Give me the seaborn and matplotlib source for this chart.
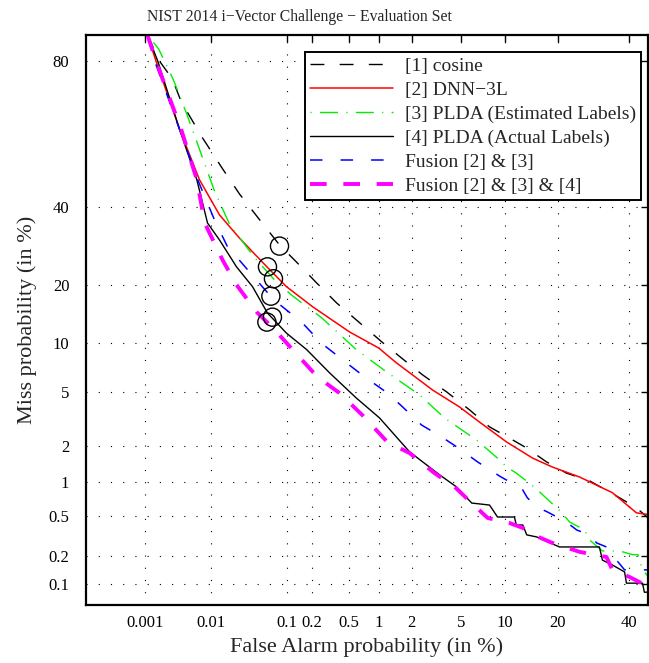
import numpy as np
import pandas as pd
import matplotlib
matplotlib.use("Agg")
import matplotlib.pyplot as plt
import seaborn as sns
from statistics import NormalDist

# ---------------- data (percent) ----------------
cos_fa = [0.0011, 0.0017, 0.0027, 0.0037, 0.0076, 0.0147, 0.025, 0.045, 0.082, 0.132, 0.225, 0.374,
          0.648, 1.07, 1.63, 2.49, 3.9, 5.79, 7.97, 10.7, 13.6, 17.5, 22.1, 28.2, 37.1, 42.5, 46.5]
cos_miss = [85, 80, 76, 70.3, 60.4, 51.2, 43.7, 36.5, 29.4, 25.1, 20.4, 16.4,
            13.0, 10.2, 8.2, 6.44, 4.98, 3.74, 2.81, 2.31, 1.93, 1.49, 1.20, 1.03, 0.73, 0.59, 0.47]

dnn_fa = [0.0011, 0.0015, 0.0035, 0.0069, 0.0133, 0.025, 0.057, 0.1, 0.203, 0.51, 1.0, 1.47,
          2.04, 3.01, 4.89, 6.81, 10.3, 14.7, 18.8, 25.5, 34.9, 42.5, 46.5]
dnn_miss = [85, 80, 62.7, 47.9, 37.6, 31.2, 24.0, 19.6, 15.7, 11.6, 9.4, 7.65,
            6.44, 5.13, 3.92, 3.05, 2.15, 1.60, 1.35, 1.11, 0.81, 0.53, 0.51]

pest_fa = [0.0011, 0.00166, 0.0028, 0.0044, 0.0067, 0.0113, 0.0183, 0.040, 0.069, 0.115, 0.256, 0.60,
           1.19, 2.35, 3.75, 6.49, 9.0, 10.3, 11.8, 14.5, 15.6, 18.6, 20.4, 22.9, 26.8, 28.2, 31.9,
           37.1, 41.3, 43.0, 44.5, 46.5]
pest_miss = [85, 82.4, 75.8, 67.4, 57.7, 44.6, 35.0, 26.1, 21.3, 17.9, 13.8, 9.2,
             6.72, 4.75, 3.27, 2.23, 1.60, 1.35, 1.20, 0.95, 0.86, 0.653, 0.56, 0.433, 0.363, 0.289, 0.224,
             0.224, 0.205, 0.205, 0.142, 0.119]

pact_fa = [0.0011, 0.0016, 0.0035, 0.0063, 0.0090, 0.0133, 0.0228, 0.0373, 0.058, 0.1, 0.173, 0.314,
           0.60, 1.02, 1.92, 3.43, 4.65, 6.0, 7.97, 9.0, 11.5, 11.8, 12.9, 13.6, 15.5, 20.4, 31.0,
           31.9, 34.9, 38.7, 39.3, 44.5, 45.1, 46.5]
pact_miss = [85, 80, 62.7, 47.9, 35.3, 30.7, 24.0, 19.6, 14.6, 11.4, 9.2, 6.63,
             4.53, 3.27, 1.80, 1.16, 0.91, 0.653, 0.626, 0.484, 0.484, 0.406, 0.406, 0.325, 0.31, 0.246, 0.246,
             0.18, 0.16, 0.135, 0.102, 0.102, 0.081, 0.081]

f23_fa = [0.0011, 0.00143, 0.0035, 0.0065, 0.0113, 0.0172, 0.0228, 0.042, 0.062, 0.078, 0.151, 0.256,
          0.432, 0.73, 1.21, 1.67, 2.44, 3.55, 4.8, 6.6, 9.3, 11.0, 12.7, 13.7, 15.5, 17.7, 22.1,
          24.7, 28.2, 30.2, 33.1, 35.6, 38.7, 46.5]
f23_miss = [85, 80, 62.7, 47.9, 36.2, 28.9, 26.4, 21.0, 17.9, 16.4, 13.1, 10.0,
            8.0, 6.25, 4.9, 3.92, 2.9, 2.36, 1.93, 1.49, 1.13, 0.99, 0.89, 0.73, 0.60, 0.54, 0.433,
            0.363, 0.325, 0.27, 0.246, 0.19, 0.142, 0.142]

fall_fa = [0.0011, 0.0015, 0.0037, 0.0063, 0.0082, 0.0147, 0.0228, 0.042, 0.057, 0.078, 0.135, 0.23,
           0.40, 0.70, 1.21, 1.92, 3.12, 4.5, 6.0, 7.74, 10.7, 12.9, 14.5, 18.8, 25.5, 33.1, 34.9,
           40.3, 44.2, 46.5]
fall_miss = [85, 80, 62.7, 47.9, 35.3, 25.6, 20.0, 14.8, 13.1, 11.4, 8.55, 6.25,
             4.9, 3.4, 2.15, 1.76, 1.20, 0.91, 0.653, 0.474, 0.425, 0.38, 0.331, 0.27, 0.219, 0.194, 0.142,
             0.119, 0.102, 0.102]

# minimum-DCF operating points (circles)
dcf_fa = [0.082, 0.058, 0.069, 0.067, 0.064, 0.057]
dcf_miss = [29.1, 24.0, 21.3, 13.9, 17.7, 13.1]

labels = ["[1] cosine", "[2] DNN\u22123L", "[3] PLDA (Estimated Labels)", "[4] PLDA (Actual Labels)",
          "Fusion [2] & [3]", "Fusion [2] & [3] & [4]"]

x_ticks = [0.001, 0.01, 0.1, 0.2, 0.5, 1, 2, 5, 10, 20, 40]
x_ticklabels = ["0.001", "0.01", "0.1", "0.2", "0.5", "1", "2", "5", "10", "20", "40"]
y_ticks = [0.1, 0.2, 0.5, 1, 2, 5, 10, 20, 40, 80]
y_ticklabels = ["0.1", "0.2", "0.5", "1", "2", "5", "10", "20", "40", "80"]

# ---------------- style ----------------
sns.set_style("white")
plt.rcParams["font.family"] = ["Liberation Serif", "DejaVu Serif"]
plt.rcParams["lines.scale_dashes"] = False

_nd = NormalDist()
_ppf = np.vectorize(_nd.inv_cdf, otypes=[float])
_cdf = np.vectorize(_nd.cdf, otypes=[float])


def probit(p):
    p = np.clip(np.asarray(p, dtype=float) / 100.0, 1e-12, 1 - 1e-12)
    return _ppf(p)


def inv_probit(z):
    return _cdf(np.asarray(z, dtype=float)) * 100.0


fig = plt.figure(figsize=(6.49, 6.63), dpi=100)
ax = fig.add_axes([86 / 649, 58 / 663, 562 / 649, 570 / 663])
ax.set_xscale("function", functions=(probit, inv_probit))
ax.set_yscale("function", functions=(probit, inv_probit))

series = [
    (cos_fa, cos_miss, "black", 1.0, (0, (10, 11))),
    (dnn_fa, dnn_miss, "red", 1.1, "-"),
    (pest_fa, pest_miss, "#00ee00", 1.0, (0, (0.8, 6, 13, 6))),
    (pact_fa, pact_miss, "black", 1.0, "-"),
    (f23_fa, f23_miss, "blue", 1.1, (0, (9, 13))),
    (fall_fa, fall_miss, "magenta", 2.8, (0, (12, 12))),
]
for (fa, miss, col, lw, ls), lab in zip(series, labels):
    df = pd.DataFrame({"fa": fa, "miss": miss})
    sns.lineplot(data=df, x="fa", y="miss", ax=ax, color=col, linewidth=lw, linestyle=ls,
                 sort=False, estimator=None, label=lab)

dcf = pd.DataFrame({"fa": dcf_fa, "miss": dcf_miss})
sns.scatterplot(data=dcf, x="fa", y="miss", ax=ax, s=170, facecolor="none", edgecolor="black",
                linewidth=1.0, zorder=5, legend=False)

ax.set_xlim(1e-4, 46.3)
ax.set_ylim(0.058, 85)
ax.set_xticks(x_ticks)
ax.set_xticklabels(x_ticklabels)
ax.set_yticks(y_ticks)
ax.set_yticklabels(y_ticklabels)
ax.xaxis.set_minor_locator(matplotlib.ticker.NullLocator())
ax.yaxis.set_minor_locator(matplotlib.ticker.NullLocator())
ax.tick_params(which="both", direction="in", top=True, right=True, length=5, width=1,
               labelsize=12, colors="black")
ax.tick_params(axis="x", pad=7)
ax.tick_params(axis="y", pad=12)
ax.grid(True, color="black", linestyle=(0, (0.8, 8)), linewidth=0.8)
for sp in ax.spines.values():
    sp.set_visible(True)
    sp.set_color("black")
    sp.set_linewidth(1.6)

ax.set_xlabel("False Alarm probability (in %)", fontsize=16, labelpad=5)
ax.set_ylabel("Miss probability (in %)", fontsize=16, labelpad=8)
fig.text(299 / 649, 1 - 17 / 663, "NIST 2014 i\u2212Vector Challenge \u2212 Evaluation Set",
         fontsize=11.3, ha="center", va="center")

leg = ax.legend(loc="upper right", bbox_to_anchor=(0.9875, 0.970), fontsize=14, frameon=True,
                fancybox=False, edgecolor="black", framealpha=1, handlelength=4.3,
                labelspacing=0.33, borderpad=0.25, handletextpad=0.6, borderaxespad=0)
leg.get_frame().set_linewidth(1.4)

fig.savefig("out.png", dpi=100)
